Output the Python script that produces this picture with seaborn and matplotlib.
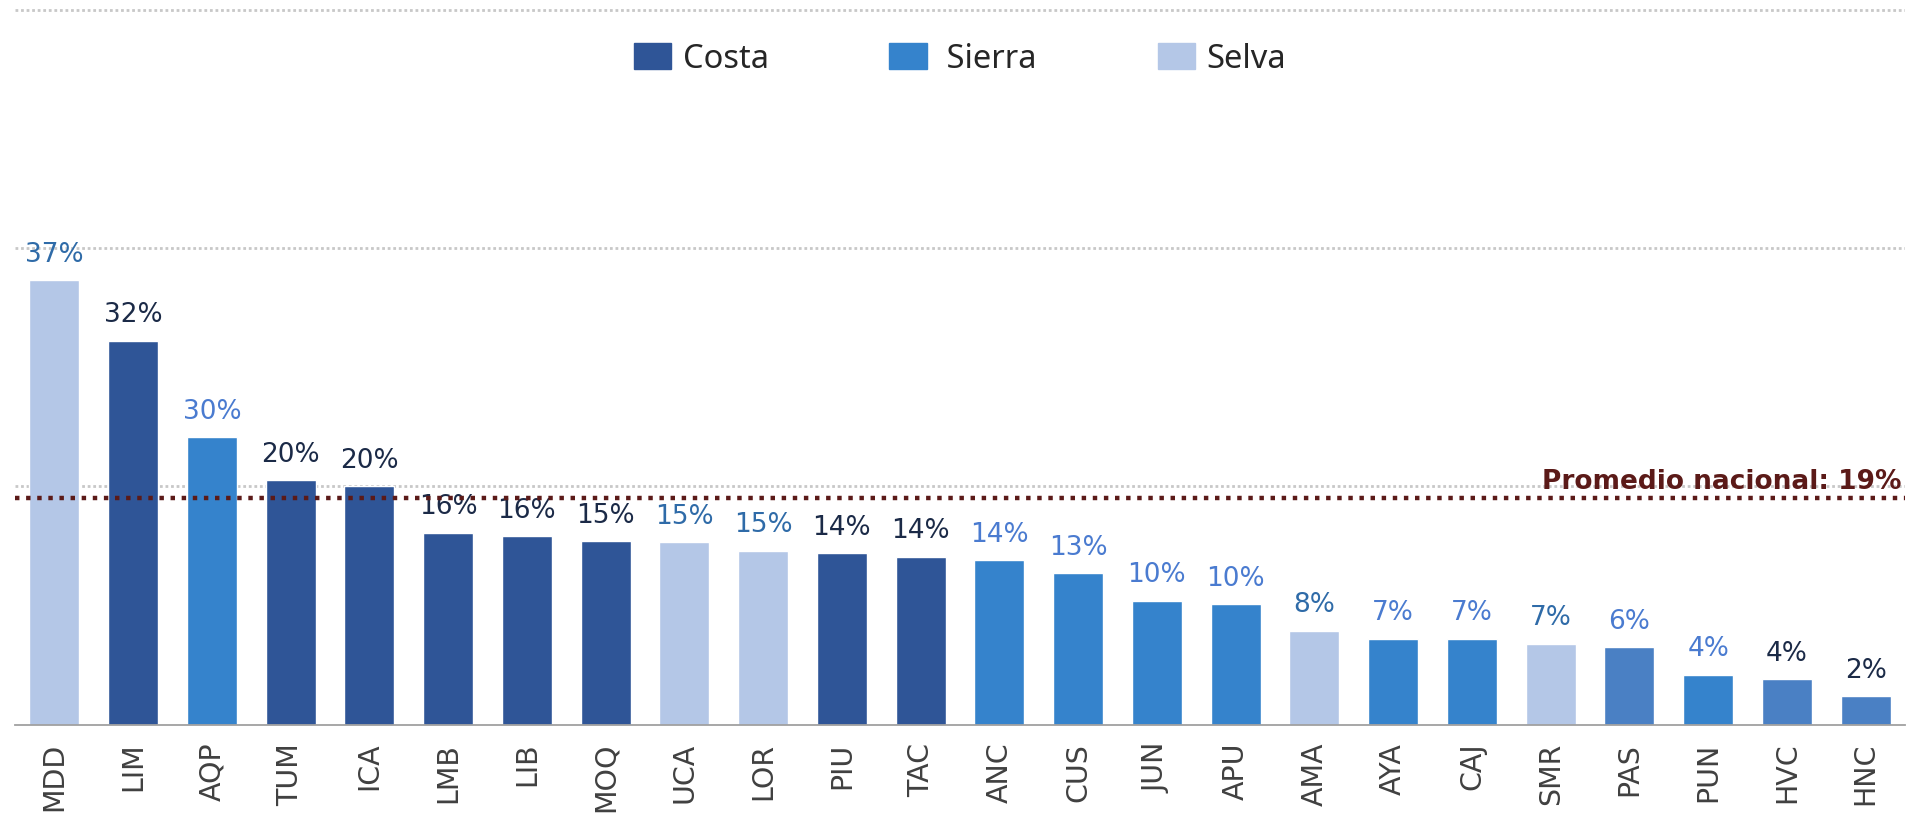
import matplotlib
matplotlib.use("Agg")
import matplotlib.pyplot as plt
import seaborn as sns
from matplotlib.patches import Patch

# Data
codes = ["MDD", "LIM", "AQP", "TUM", "ICA", "LMB", "LIB", "MOQ", "UCA", "LOR", "PIU", "TAC",
         "ANC", "CUS", "JUN", "APU", "AMA", "AYA", "CAJ", "SMR", "PAS", "PUN", "HVC", "HNC"]
values = [37.3, 32.2, 24.1, 20.5, 20.0, 16.1, 15.8, 15.4, 15.3, 14.6, 14.4, 14.1,
          13.8, 12.7, 10.4, 10.1, 7.9, 7.2, 7.2, 6.8, 6.5, 4.2, 3.8, 2.4]
labels = ["37%", "32%", "30%", "20%", "20%", "16%", "16%", "15%", "15%", "15%", "14%", "14%",
          "14%", "13%", "10%", "10%", "8%", "7%", "7%", "7%", "6%", "4%", "4%", "2%"]
region = ["Selva", "Costa", "Sierra", "Costa", "Costa", "Costa", "Costa", "Costa", "Selva", "Selva",
          "Costa", "Costa", "Sierra", "Sierra", "Sierra", "Sierra", "Selva", "Sierra", "Sierra",
          "Selva", "Otro", "Sierra", "Otro", "Otro"]
label_region = ["Selva", "Costa", "Sierra", "Costa", "Costa", "Costa", "Costa", "Costa", "Selva", "Selva",
                "Costa", "Costa", "Sierra", "Sierra", "Sierra", "Sierra", "Selva", "Sierra", "Sierra",
                "Selva", "Sierra", "Sierra", "Costa", "Costa"]
promedio = 19

bar_colors = {"Costa": "#2F5597", "Sierra": "#3583CC", "Selva": "#B4C7E7", "Otro": "#4A80C4"}
text_colors = {"Costa": "#1B2A47", "Sierra": "#4A7BD0", "Selva": "#2F6BA8"}

sns.set_style("white")
plt.rcParams["font.family"] = ["DejaVu Sans"]

fig = plt.figure(figsize=(19.21, 8.18), dpi=100)
ax = fig.add_axes([0.0078, 0.114, 0.9839, 0.8787])

palette = [bar_colors[r] for r in region]
sns.barplot(x=codes, y=values, hue=codes, palette=palette, legend=False,
            width=0.635, saturation=1, ax=ax)

# value labels
for patch, lab, lr in zip(ax.patches, labels, label_region):
    ax.annotate(lab, (patch.get_x() + patch.get_width() / 2, patch.get_height()),
                xytext=(0, 9), textcoords="offset points", ha="center", va="bottom",
                fontsize=19, color=text_colors[lr])

# promedio nacional
ax.axhline(promedio, color="#5B1A18", lw=3.2, linestyle=(0, (1, 1.5)), zorder=4)
ax.annotate("Promedio nacional: 19%", (23.45, promedio), xytext=(0, 7),
            textcoords="offset points", ha="right", va="baseline",
            fontsize=19, fontweight="bold", color="#5B1A18")

ax.set_xlim(-0.5, 23.5)
ax.set_ylim(0, 60.3)
ax.set_yticks([20, 40, 60])
ax.set_yticklabels([])
ax.yaxis.grid(True, color="#C8C8C8", lw=2, linestyle=(0, (1, 1)))
ax.set_axisbelow(True)
for s in ["top", "right", "left"]:
    ax.spines[s].set_visible(False)
ax.spines["bottom"].set_color("#A0A0A0")
ax.spines["bottom"].set_linewidth(1.3)
ax.tick_params(axis="x", length=0, pad=13, labelsize=20.5, labelcolor="#404040", rotation=90)
ax.tick_params(axis="y", length=0)
ax.set_xlabel("")
ax.set_ylabel("")

handles = [Patch(color=bar_colors["Costa"], label="Costa"),
           Patch(color=bar_colors["Sierra"], label=" Sierra"),
           Patch(color=bar_colors["Selva"], label="Selva")]
ax.legend(handles=handles, loc="upper center", bbox_to_anchor=(0.5, 0.99), ncol=3,
          frameon=False, prop={"family": "Noto Sans", "size": 23.5},
          handlelength=1.15, handleheight=0.85, handletextpad=0.35, columnspacing=3.7)

fig.savefig("out.png", dpi=100)
